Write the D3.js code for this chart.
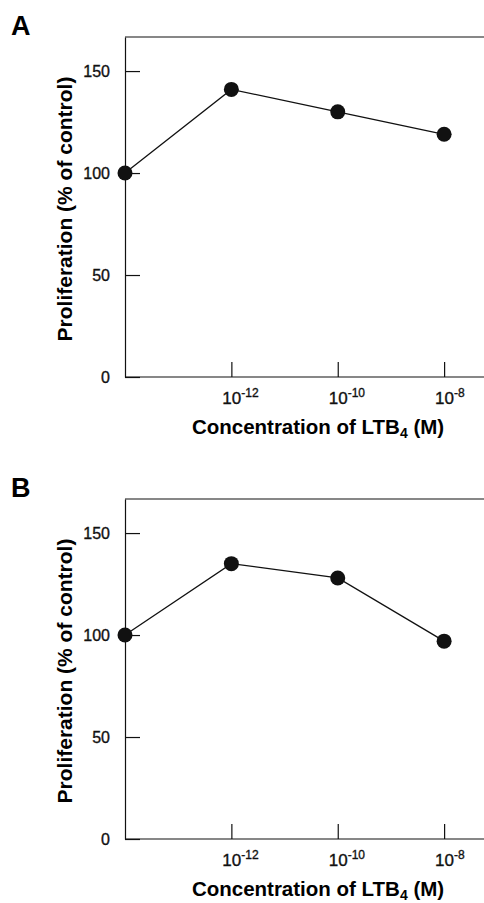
<!DOCTYPE html>
<html>
<head>
<meta charset="utf-8">
<script src="https://cdn.jsdelivr.net/npm/d3@7"></script>
<style>
  body { margin: 0; background: #fff; }
  svg { display: block; font-family: "Liberation Sans", Arial, Helvetica, sans-serif; }
  .tick text { fill: #111; stroke: #111; stroke-width: 0.35; }
</style>
</head>
<body>
<div id="chart"></div>
<script>
(function(d3) {
  'use strict';

  // LTB4 concentration (M); 0 = control, drawn on the y axis
  var doses = [0, 1e-12, 1e-10, 1e-8];
  var panelA = [100, 141, 130, 119];
  var panelB = [100, 135, 128, 97];
  var yTicks = [0, 50, 100, 150];
  var xTicks = [1e-12, 1e-10, 1e-8];
  var xExps = ['-12', '-10', '-8'];

  var width = 484, height = 903;
  var left = 125, right = 484, plotH = 340;

  var svg = d3.select('#chart').append('svg')
    .attr('width', width)
    .attr('height', height);

  var x = d3.scaleLog().domain([1e-14, Math.pow(10, -7.25)]).range([left, right]);
  var y = d3.scaleLinear().domain([0, 166.7]).range([plotH, 0]);

  function xPos(d) { return d === 0 ? x.range()[0] : x(d); }

  function panel(values, letter, top) {
    var g = svg.append('g').attr('transform', 'translate(0,' + top + ')');

    g.append('text')
      .attr('x', 11)
      .attr('y', -2)
      .attr('font-size', 27)
      .attr('font-weight', 'bold')
      .text(letter);

    // top frame line
    g.append('line')
      .attr('x1', left).attr('x2', right)
      .attr('y1', 0).attr('y2', 0)
      .attr('stroke', '#111').attr('stroke-width', 1.2);

    var yAxis = g.append('g')
      .attr('transform', 'translate(' + left + ',0)')
      .call(d3.axisLeft(y).tickValues(yTicks).tickSizeInner(-15).tickSizeOuter(0).tickPadding(15));
    yAxis.selectAll('text').attr('font-size', 16);

    var xAxis = g.append('g')
      .attr('transform', 'translate(0,' + plotH + ')')
      .call(d3.axisBottom(x).tickValues(xTicks).tickSizeInner(-15).tickSizeOuter(0).tickFormat(''));
    xAxis.select('.domain').attr('d', 'M' + left + ',0H' + right);

    xAxis.selectAll('.tick').append('text')
      .attr('y', 27)
      .attr('text-anchor', 'start')
      .attr('x', -9.5)
      .attr('font-size', 17)
      .each(function(d, i) {
        var t = d3.select(this);
        t.append('tspan').text('10');
        t.append('tspan').attr('font-size', 12).attr('dy', -7).text(xExps[i]);
      });

    g.selectAll('.domain, .tick line').attr('stroke', '#111').attr('stroke-width', 1.2);

    g.append('text')
      .attr('x', 318)
      .attr('y', plotH + 57)
      .attr('text-anchor', 'middle')
      .attr('font-size', 20.5)
      .attr('font-weight', 'bold')
      .call(function(t) {
        t.append('tspan').text('Concentration of LTB');
        t.append('tspan').attr('font-size', 14).attr('dy', 4).text('4');
        t.append('tspan').attr('dy', -4).text(' (M)');
      });

    g.append('text')
      .attr('transform', 'translate(72,' + (plotH / 2 + 2) + ') rotate(-90)')
      .attr('text-anchor', 'middle')
      .attr('font-size', 21)
      .attr('font-weight', 'bold')
      .text('Proliferation (% of control)');

    var line = d3.line()
      .x(function(d, i) { return xPos(doses[i]); })
      .y(function(d) { return y(d); });

    g.append('path')
      .datum(values)
      .attr('d', line)
      .attr('fill', 'none')
      .attr('stroke', '#111')
      .attr('stroke-width', 1.3);

    g.selectAll('circle').data(values).enter().append('circle')
      .attr('cx', function(d, i) { return xPos(doses[i]); })
      .attr('cy', function(d) { return y(d); })
      .attr('r', 7.5)
      .attr('fill', '#111');
  }

  panel(panelA, 'A', 37);
  panel(panelB, 'B', 499);
}(d3));
</script>
</body>
</html>
